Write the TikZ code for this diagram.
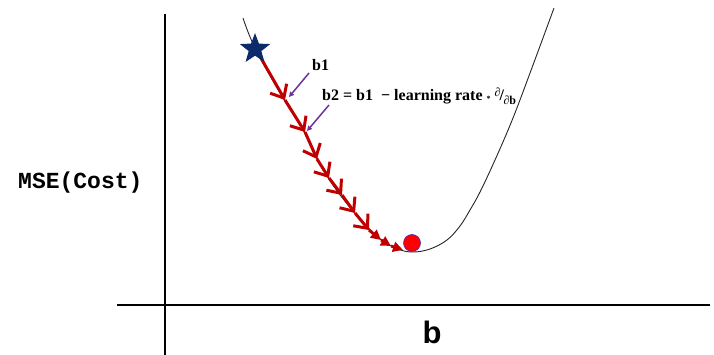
\documentclass[tikz,border=0pt]{standalone}
\usepackage{fontspec}
\setmainfont{Liberation Serif}
\newfontfamily\monob{Liberation Mono}
\newfontfamily\sansb{Liberation Sans}
\usetikzlibrary{arrows.meta,shapes.geometric}
\definecolor{pathred}{HTML}{C00000}
\definecolor{starblue}{HTML}{0D2A6B}
\definecolor{hintpurple}{HTML}{7030A0}
\begin{document}
\begin{tikzpicture}[x=1pt,y=-1pt,
  axis/.style={line width=2.2pt,black},
  curve/.style={line width=0.9pt,black!85},
  gdstep/.style={line width=3pt,pathred,-{Straight Barb[length=11pt,width=19pt,line width=3pt]}},
  gdsmall/.style={line width=3pt,pathred,-{Triangle[length=10pt,width=10pt]}},
  hint/.style={line width=1.5pt,hintpurple,-{Triangle[length=5pt,width=5pt]}},
  lbl/.style={inner sep=0pt,font=\bfseries\fontsize{16}{18}\selectfont}]
\useasboundingbox (0,0) rectangle (714,355);
% axes
\coordinate (yt) at (165,14);
\coordinate (yb) at (165,355);
\coordinate (xl) at (117,305);
\coordinate (xr) at (710,305);
\draw[axis] (yt) -- (yb);
\draw[axis] (xl) -- (xr);
% cost curve
\draw[curve] plot[smooth,tension=0.6] coordinates {(243,18) (255,48) (283,98) (303,130) (327,176) (353,211) (379,238) (398,249) (413,252) (430,249) (447,240) (460,226) (470,210) (480,192) (495,160) (513,118) (533,65) (554,8)};
% gradient descent steps
\coordinate (p0) at (258,53);
\coordinate (p1) at (285,100);
\coordinate (p2) at (305,132);
\coordinate (p3) at (317,159);
\coordinate (p4) at (329,178);
\coordinate (p5) at (342,195);
\coordinate (p6) at (355,213);
\coordinate (p7) at (369,230);
\coordinate (p8) at (381,240);
\coordinate (p9) at (391,246);
\coordinate (p10) at (403,250);
\foreach \a/\b in {p0/p1,p1/p2,p2/p3,p3/p4,p4/p5,p5/p6,p6/p7}
  \draw[gdstep] (\a) -- (\b);
\foreach \a/\b in {p7/p8,p8/p9,p9/p10}
  \draw[gdsmall] (\a) -- (\b);
% start star and end ball
\node[star,star points=5,star point ratio=2.4,fill=starblue,minimum size=32pt,inner sep=0pt] (start) at (255,49) {};
\node[circle,fill=red,draw=hintpurple!70!blue,line width=0.6pt,minimum size=17pt,inner sep=0pt] (ball) at (412,243) {};
% labels
\node[lbl,anchor=west] (b1) at (312,65) {b1};
\node[lbl,anchor=west] (b2) at (322,96) {b2 = b1 \ − learning rate \raisebox{-1pt}{\footnotesize*} \raisebox{4.5pt}{\fontsize{12}{12}\selectfont ∂}\kern-1pt/\kern-0.5pt\raisebox{-3.5pt}{\fontsize{12}{12}\selectfont ∂b}};
\coordinate (h1s) at (309,73);
\coordinate (h1e) at (289,97);
\coordinate (h2s) at (329,105);
\coordinate (h2e) at (307,131);
\draw[hint] (h1s) -- (h1e);
\draw[hint] (h2s) -- (h2e);
\node[anchor=west,inner sep=0pt,font=\monob\bfseries\fontsize{23}{25}\selectfont] (ylab) at (18,183) {MSE(Cost)};
\node[inner sep=0pt,font=\sansb\bfseries\fontsize{31}{33}\selectfont] (xlab) at (432,332) {b};
\end{tikzpicture}
\end{document}
